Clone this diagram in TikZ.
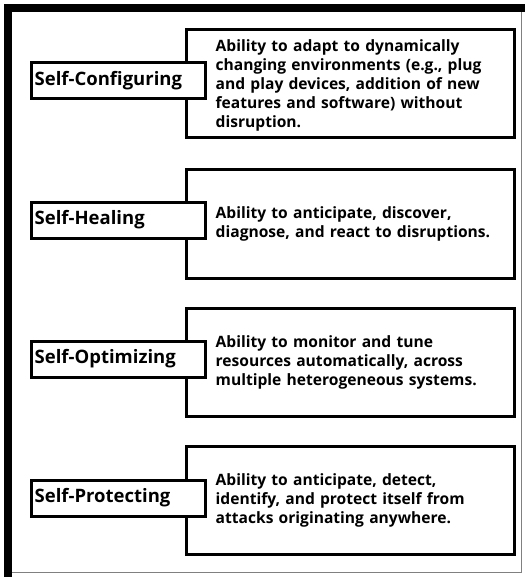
\documentclass[tikz,border=0pt]{standalone}
\usepackage{fontspec}
\setmainfont{Open Sans}
\begin{document}
\begin{tikzpicture}[x=1pt,y=-1pt,
  descbox/.style={draw, line width=3pt, minimum width=328pt, minimum height=108pt, anchor=north west, inner sep=0pt},
  desctext/.style={anchor=west, align=left, inner sep=0pt, text width=300pt, font=\bfseries\fontsize{15.6}{19}\selectfont},
  labelbox/.style={draw, line width=3pt, fill=white, anchor=north west, minimum width=174pt, minimum height=36pt, inner sep=0pt},
  labeltext/.style={anchor=west, inner sep=0pt, font=\bfseries\fontsize{18.5}{20}\selectfont},
  frame/.style={line width=8pt, line cap=rect},
  thinframe/.style={line width=1pt, gray}]
\useasboundingbox (0,0) rectangle (525,577);
% outer frame
\coordinate (tl) at (8,8);
\coordinate (tr) at (521,8);
\coordinate (bl) at (8,577);
\coordinate (br) at (521,572);
\coordinate (bl2) at (12,572);
\draw[thinframe] (tr) -- (br) -- (bl2);
\draw[frame] (bl) -- (tl) -- (tr);
% row 1
\node[descbox] (d1) at (184.5,28.5) {};
\node[desctext] (t1) at ([xshift=31pt,yshift=-1pt]d1.west) {Ability to adapt to dynamically\\changing environments (e.g., plug\\and play devices, addition of new\\features and software) without\\disruption.};
\node[labelbox] (l1) at (29.5,61.5) {};
\node[labeltext] (n1) at ([xshift=5pt]l1.west) {Self-Configuring};
% row 2
\node[descbox] (d2) at (184.5,168.5) {};
\node[desctext] (t2) at ([xshift=31pt]d2.west) {Ability to anticipate, discover,\\diagnose, and react to disruptions.};
\node[labelbox] (l2) at (29.5,200.5) {};
\node[labeltext] (n2) at ([xshift=5pt]l2.west) {Self-Healing};
% row 3
\node[descbox] (d3) at (184.5,306.5) {};
\node[desctext] (t3) at ([xshift=31pt]d3.west) {Ability to monitor and tune\\resources automatically, across\\multiple heterogeneous systems.};
\node[labelbox] (l3) at (29.5,339.5) {};
\node[labeltext] (n3) at ([xshift=5pt]l3.west) {Self-Optimizing};
% row 4
\node[descbox] (d4) at (184.5,444.5) {};
\node[desctext] (t4) at ([xshift=31pt]d4.west) {Ability to anticipate, detect,\\identify, and protect itself from\\attacks originating anywhere.};
\node[labelbox] (l4) at (29.5,478.5) {};
\node[labeltext] (n4) at ([xshift=5pt]l4.west) {Self-Protecting};
\end{tikzpicture}
\end{document}
